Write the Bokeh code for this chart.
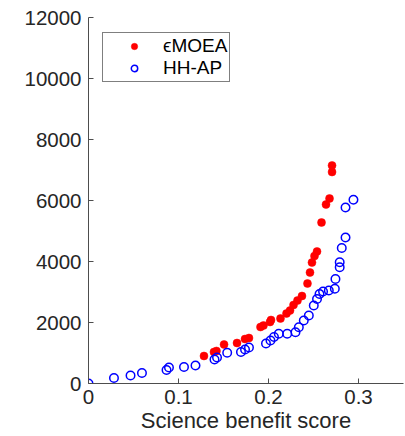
from bokeh.plotting import figure
from bokeh.models import FixedTicker, Range1d, Legend, LegendItem
from bokeh.embed import file_html
from bokeh.resources import INLINE

# eMOEA (red filled)
emoea_x = [0.1283, 0.1394, 0.1422, 0.1506, 0.1650, 0.1739, 0.1783, 0.1911, 0.1944,
           0.2017, 0.2028, 0.2133, 0.2200, 0.2239, 0.2278, 0.2322, 0.2372, 0.2433,
           0.2461, 0.2483, 0.2511, 0.2539, 0.2589, 0.2639, 0.2678, 0.2706, 0.2706]
emoea_y = [902, 1033, 1066, 1279, 1328, 1459, 1492, 1852, 1902,
           2016, 2082, 2131, 2295, 2393, 2574, 2721, 2869, 3279,
           3639, 3967, 4180, 4328, 5279, 5869, 6066, 6934, 7148]

# HH-AP (blue open)
hhap_x = [0.0, 0.0283, 0.0467, 0.0594, 0.0867, 0.0894, 0.1061, 0.1189, 0.1400,
          0.1428, 0.1541, 0.1694, 0.1739, 0.1783, 0.1972, 0.2022, 0.2061, 0.2114,
          0.2208, 0.2300, 0.2337, 0.2392, 0.2448, 0.2503, 0.2539, 0.2567, 0.2606,
          0.2670, 0.2737, 0.2744, 0.2791, 0.2791, 0.2814, 0.2856, 0.2856, 0.2944]
hhap_y = [0, 180, 262, 344, 443, 525, 541, 590, 787,
          852, 1007, 1033, 1115, 1180, 1311, 1410, 1525, 1630,
          1630, 1682, 1846, 2066, 2230, 2557, 2770, 2934, 3016,
          3049, 3105, 3426, 3813, 3977, 4443, 4787, 5770, 6023]

x_ticks = [0, 0.1, 0.2, 0.3]
x_tick_labels = ["0", "0.1", "0.2", "0.3"]
y_ticks = [0, 2000, 4000, 6000, 8000, 10000, 12000]
y_tick_labels = ["0", "2000", "4000", "6000", "8000", "10000", "12000"]

FONT = "Liberation Sans"

p = figure(width=405, height=436, output_backend="svg", toolbar_location=None,
           x_range=Range1d(0, 0.35), y_range=Range1d(0, 12000),
           min_border_left=88, min_border_right=2, min_border_top=17,
           min_border_bottom=53)
p.outline_line_color = None
p.grid.visible = False
p.background_fill_color = "white"
p.border_fill_color = "white"

r1 = p.scatter(emoea_x, emoea_y, size=8, fill_color="#ff0000", line_color="#ff0000",
               line_width=0.5)
r2 = p.scatter(hhap_x, hhap_y, size=8.5, fill_color=None, line_color="#0000ff",
               line_width=1.5)

for ax in (p.xaxis[0], p.yaxis[0]):
    ax.axis_line_color = "#4d4d4d"
    ax.axis_line_width = 1
    ax.major_tick_line_color = "#4d4d4d"
    ax.major_tick_in = 5
    ax.major_tick_out = 0
    ax.minor_tick_line_color = None
    ax.major_label_text_font = FONT
    ax.major_label_text_font_size = "20.5px"
    ax.major_label_text_color = "#262626"

p.xaxis.ticker = FixedTicker(ticks=x_ticks)
p.xaxis.major_label_overrides = {t: l for t, l in zip(x_ticks, x_tick_labels)}
p.yaxis.ticker = FixedTicker(ticks=y_ticks)
p.yaxis.major_label_overrides = {t: l for t, l in zip(y_ticks, y_tick_labels)}
p.xaxis.major_label_standoff = 6
p.yaxis.major_label_standoff = 7
p.xaxis.axis_label = "Science benefit score"
p.xaxis.axis_label_text_font = FONT
p.xaxis.axis_label_text_font_size = "22px"
p.xaxis.axis_label_text_font_style = "normal"
p.xaxis.axis_label_text_color = "#262626"
p.xaxis.axis_label_standoff = 1

legend = Legend(items=[LegendItem(label="ϵMOEA", renderers=[r1]),
                       LegendItem(label="HH-AP", renderers=[r2])],
                location=(14, 301))
legend.border_line_color = "black"
legend.border_line_width = 1
legend.background_fill_color = "white"
legend.label_text_font = FONT
legend.label_text_font_size = "19px"
legend.label_text_color = "black"
legend.padding = 2
legend.spacing = -2
legend.margin = 0
legend.glyph_width = 58
legend.glyph_height = 16
legend.label_height = 16
legend.label_standoff = 0
p.add_layout(legend, "center")

open("out.html", "w").write(file_html(p, INLINE))
